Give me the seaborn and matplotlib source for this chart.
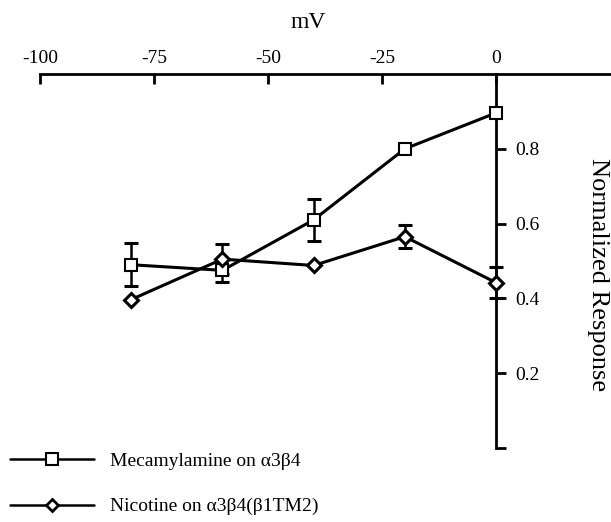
import numpy as np
import pandas as pd
import matplotlib
matplotlib.use("Agg")
import matplotlib.pyplot as plt
from matplotlib.lines import Line2D
import seaborn as sns

sns.set_style("ticks")
plt.rcParams['font.family'] = ['Liberation Serif', 'DejaVu Serif']
plt.rcParams['text.color'] = 'black'

# data
mv = [-80, -60, -40, -20, 0]
mec_resp = [0.49, 0.475, 0.61, 0.80, 0.896]
mec_err = [0.058, 0.03, 0.057, 0.0, 0.0]
nic_resp = [0.397, 0.505, 0.488, 0.565, 0.442]
nic_err = [0.0, 0.04, 0.0, 0.03, 0.042]

mec_label = "Mecamylamine on \u03b13\u03b24"
nic_label = "Nicotine on \u03b13\u03b24(\u03b21TM2)"

x_ticks = [-100, -75, -50, -25, 0]
y_ticks = [0, 0.2, 0.4, 0.6, 0.8]
y_ticklabels = ['', '0.2', '0.4', '0.6', '0.8']

df = pd.DataFrame({
    'mV': mv + mv,
    'resp': mec_resp + nic_resp,
    'err': mec_err + nic_err,
    'drug': [mec_label] * len(mv) + [nic_label] * len(mv),
})

fig = plt.figure(figsize=(6.11, 5.22), dpi=100)
ax = fig.add_axes([40 / 611, 74 / 522, 571 / 611, 374 / 522])

# error bars first, underneath the markers
for drug in [mec_label, nic_label]:
    sub = df[(df['drug'] == drug) & (df['err'] > 0)]
    ax.errorbar(sub['mV'], sub['resp'], yerr=sub['err'], fmt='none',
                ecolor='black', elinewidth=1.8, capsize=5, capthick=2.2, zorder=1)

sns.lineplot(data=df, x='mV', y='resp', style='drug',
             markers={mec_label: 's', nic_label: 'D'}, dashes=False,
             color='black', linewidth=2.2, markersize=9,
             markerfacecolor='white', markeredgecolor='black',
             markeredgewidth=1.5, legend=False, ax=ax, zorder=3)
# diamonds are a bit smaller and bolder
for ln in ax.get_lines():
    if ln.get_marker() == 'D':
        ln.set_markersize(7)
        ln.set_markeredgewidth(2.2)

ax.set_xlim(-100, 25.2)
ax.set_ylim(0, 1.0)

ax.spines['left'].set_visible(False)
ax.spines['bottom'].set_visible(False)
ax.spines['right'].set_position(('data', 0))
ax.spines['right'].set_bounds(0, 1.0)
for s in ['top', 'right']:
    ax.spines[s].set_linewidth(2)
    ax.spines[s].set_color('black')

ax.xaxis.tick_top()
ax.set_xticks(x_ticks)
ax.set_xticklabels([str(v) for v in x_ticks])
ax.tick_params(axis='x', direction='in', length=7, width=2, pad=5,
               labelsize=14, colors='black')

ax.yaxis.tick_right()
ax.set_yticks(y_ticks)
ax.set_yticklabels(y_ticklabels)
ax.tick_params(axis='y', direction='out', length=7, width=2, pad=7,
               labelsize=14, colors='black')

ax.set_xlabel('')
ax.set_ylabel('')
ax.grid(False)

fig.text(308 / 611, 1 - 22 / 522, 'mV', fontsize=17, ha='center', va='center')
fig.text(598 / 611, 1 - 275 / 522, 'Normalized Response', fontsize=19,
         rotation=-90, ha='center', va='center')

handles = [
    Line2D([], [], color='black', linewidth=1.8, marker='s', markersize=9,
           markerfacecolor='white', markeredgecolor='black', markeredgewidth=1.5),
    Line2D([], [], color='black', linewidth=1.8, marker='D', markersize=6,
           markerfacecolor='white', markeredgecolor='black', markeredgewidth=2),
]
fig.legend(handles, [mec_label, nic_label], loc='upper left',
           bbox_to_anchor=(10 / 611, 1 - 452 / 522), frameon=False,
           fontsize=14, handlelength=4.3, handletextpad=0.85,
           labelspacing=1.45, borderpad=0, borderaxespad=0)

fig.savefig('out.png', dpi=100)
